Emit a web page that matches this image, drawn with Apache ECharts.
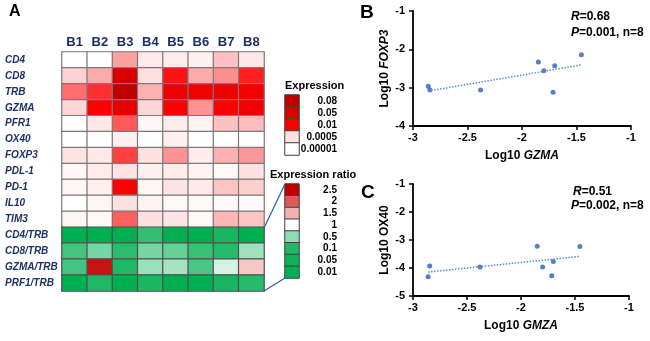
<!DOCTYPE html>
<html>
<head>
<meta charset="utf-8">
<script src="https://cdn.jsdelivr.net/npm/echarts@6/dist/echarts.min.js"></script>
<style>
  html, body { margin: 0; padding: 0; background: #fff; }
  #show_picture { width: 650px; height: 341px; }
</style>
</head>
<body>
<div id="show_picture"></div>
<script>
// heatmap (panel A)
const samples = ['B1', 'B2', 'B3', 'B4', 'B5', 'B6', 'B7', 'B8'];
const genes = ['CD4', 'CD8', 'TRB', 'GZMA', 'PFR1', 'OX40', 'FOXP3', 'PDL-1', 'PD-1', 'IL10', 'TIM3'];
const ratioNames = ['CD4/TRB', 'CD8/TRB', 'GZMA/TRB', 'PRF1/TRB'];

// log10 of expression, one row per gene
const exprLog10 = [
    [-5, -5, -2.93, -3.85, -3.95, -4.18, -3.12, -3.67],
    [-3.22, -2.99, -1.28, -3.3, -2.1, -2.99, -2.83, -2.19],
    [-2.65, -2.28, -1.1, -3.03, -1.62, -1.75, -1.65, -1.75],
    [-3.24, -2.0, -1.48, -3.24, -2.0, -2.84, -2.0, -1.75],
    [-4.9, -3.67, -2.51, -4.45, -3.85, -4.3, -3.12, -3.09],
    [-5, -5, -4.18, -5, -4.18, -5, -5, -5],
    [-3.4, -3.74, -2.37, -3.3, -2.84, -3.95, -3.03, -2.88],
    [-4.45, -3.85, -3.46, -4.18, -3.95, -4.3, -4.6, -3.3],
    [-4.45, -4.1, -2.0, -4.45, -3.46, -3.74, -3.14, -3.2],
    [-5, -4.45, -3.3, -4.3, -4.6, -4.6, -4.6, -4.7],
    [-4.45, -4.6, -2.56, -3.3, -3.46, -4.6, -3.05, -3.14]
];
const ratio = [
    [0.01, 0.01, 0.01, 0.17, 0.01, 0.01, 0.08, 0.01],
    [0.235, 0.415, 0.14, 0.415, 0.36, 0.19, 0.127, 0.58],
    [0.235, 2.4, 0.1, 0.55, 0.6, 0.255, 0.81, 1.35],
    [0.01, 0.1, 0.01, 0.09, 0.01, 0.01, 0.08, 0.127]
];

const exprLegend = [0.08, 0.05, 0.01, 0.0005, 0.00001];
const exprColors = ['#c00000', '#dc0000', '#ff0000', '#fde0e0', '#ffffff'];
const ratioLegend = [2.5, 2, 1.5, 1, 0.5, 0.1, 0.05, 0.01];
const ratioColors = ['#c00000', '#dc5a5a', '#f2b0b0', '#ffffff', '#8fdbb3', '#1fb866', '#0db359', '#00b050'];

// scatter (panels B, C)
const log10Gzma = [-2.86, -2.845, -2.38, -1.85, -1.80, -1.70, -1.715, -1.455];
const log10Foxp3 = [-2.96, -3.06, -3.06, -2.33, -2.56, -2.43, -3.12, -2.14];
const log10Ox40 = [-4.31, -3.93, -3.96, -3.22, -3.96, -3.77, -4.28, -3.23];

const navy = '#1c2f66';
const font = 'Liberation Sans, Arial, sans-serif';

function hexRgb(h) {
    return [parseInt(h.substr(1, 2), 16), parseInt(h.substr(3, 2), 16), parseInt(h.substr(5, 2), 16)];
}
// sample a piecewise linear colour ramp so visualMap can use it evenly
function ramp(stops, colors, n) {
    let pts = stops.map((s, i) => [s, hexRgb(colors[i])]).sort((a, b) => a[0] - b[0]);
    let lo = pts[0][0], hi = pts[pts.length - 1][0];
    let out = [];
    for (let k = 0; k < n; k++) {
        let v = lo + (hi - lo) * k / (n - 1);
        let j = 0;
        while (j < pts.length - 2 && v > pts[j + 1][0]) j++;
        let t = (v - pts[j][0]) / (pts[j + 1][0] - pts[j][0]);
        t = Math.max(0, Math.min(1, t));
        let c = pts[j][1].map((x, m) => Math.round(x + (pts[j + 1][1][m] - x) * t));
        out.push('rgb(' + c.join(',') + ')');
    }
    return out;
}

function fit(xs, ys) {
    let mx = xs.reduce((a, b) => a + b) / xs.length;
    let my = ys.reduce((a, b) => a + b) / ys.length;
    let sxy = 0, sxx = 0;
    xs.forEach((x, i) => { sxy += (x - mx) * (ys[i] - my); sxx += (x - mx) * (x - mx); });
    let b = sxy / sxx;
    let x0 = Math.min(...xs), x1 = Math.max(...xs);
    return [[x0, my + b * (x0 - mx)], [x1, my + b * (x1 - mx)]];
}

let exprData = [];
exprLog10.forEach((row, r) => row.forEach((v, c) => exprData.push([c, r, v])));
let ratioData = [];
ratio.forEach((row, r) => row.forEach((v, c) => ratioData.push([c, genes.length + r, v])));

let exprStops = exprLegend.map(v => Math.log10(v));

let myChart = echarts.init(document.getElementById('show_picture'));

const tickLabel = { fontFamily: font, fontWeight: 'bold', fontSize: 11, color: '#000' };
const axisLine = { onZero: false, lineStyle: { color: '#000', width: 1.8 } };
const axisTick = { length: 4, lineStyle: { color: '#000', width: 1.5 } };
const nameRich = {
    n: { fontFamily: font, fontWeight: 'bold', fontSize: 12, color: '#000' },
    i: { fontFamily: font, fontWeight: 'bold', fontStyle: 'italic', fontSize: 12, color: '#000' }
};

function scatterAxes(gi, yMin, yMax, xName, yName) {
    return {
        x: {
            type: 'value', gridIndex: gi, min: -3, max: -1, interval: 0.5,
            splitLine: { show: false }, axisLine: axisLine, axisTick: axisTick,
            axisLabel: Object.assign({ margin: 6 }, tickLabel),
            name: xName, nameLocation: 'middle', nameGap: 24,
            nameTextStyle: { rich: nameRich }
        },
        y: {
            type: 'value', gridIndex: gi, min: yMin, max: yMax, interval: 1,
            splitLine: { show: false }, axisLine: axisLine, axisTick: axisTick,
            axisLabel: Object.assign({ margin: 8 }, tickLabel),
            name: yName, nameLocation: 'middle', nameGap: 22,
            nameTextStyle: { rich: nameRich }
        }
    };
}
let axB = scatterAxes(3, -4, -1, '{n|Log10 }{i|GZMA}', '{n|Log10 }{i|FOXP3}');
let axC = scatterAxes(4, -5, -1, '{n|Log10 }{i|GMZA}', '{n|Log10 OX40}');

const legendAxisLabel = { interval: 0, margin: 38, align: 'right', fontFamily: font, fontWeight: 'bold', fontSize: 10, color: '#000' };

let option = {
    animation: false,
    grid: [
        { left: 62, top: 52, width: 202, height: 239 },
        { left: 285, top: 95, width: 14, height: 60 },
        { left: 285, top: 184, width: 14, height: 94 },
        { left: 413, top: 11, width: 218, height: 115 },
        { left: 413, top: 184, width: 216, height: 112 }
    ],
    xAxis: [
        {
            type: 'category', gridIndex: 0, data: samples, position: 'top',
            axisLine: { show: false }, axisTick: { show: false }, splitLine: { show: false },
            axisLabel: { interval: 0, margin: 3, fontFamily: font, fontWeight: 'bold', fontSize: 13, color: navy }
        },
        { type: 'category', gridIndex: 1, data: [''], show: false },
        { type: 'category', gridIndex: 2, data: [''], show: false },
        axB.x, axC.x
    ],
    yAxis: [
        {
            type: 'category', gridIndex: 0, data: genes.concat(ratioNames), inverse: true,
            axisLine: { show: false }, axisTick: { show: false }, splitLine: { show: false },
            axisLabel: { interval: 0, margin: 57, align: 'left', fontFamily: font, fontWeight: 'bold', fontStyle: 'italic', fontSize: 10, color: navy }
        },
        {
            type: 'category', gridIndex: 1, data: exprLegend.map(String), inverse: true, position: 'right',
            axisLine: { show: false }, axisTick: { show: false }, axisLabel: legendAxisLabel
        },
        {
            type: 'category', gridIndex: 2, data: ratioLegend.map(String), inverse: true, position: 'right',
            axisLine: { show: false }, axisTick: { show: false }, axisLabel: legendAxisLabel
        },
        axB.y, axC.y
    ],
    visualMap: [
        {
            show: false, type: 'continuous', seriesIndex: [0, 2], dimension: 2,
            min: Math.min(...exprStops), max: Math.max(...exprStops),
            inRange: { color: ramp(exprStops, exprColors, 300) }
        },
        {
            show: false, type: 'continuous', seriesIndex: [1, 3], dimension: 2,
            min: Math.min(...ratioLegend), max: Math.max(...ratioLegend),
            inRange: { color: ramp(ratioLegend, ratioColors, 300) }
        }
    ],
    series: [
        {
            type: 'heatmap', xAxisIndex: 0, yAxisIndex: 0, data: exprData,
            itemStyle: { borderColor: '#7a7a7a', borderWidth: 1.2 }, emphasis: { disabled: true }
        },
        {
            type: 'heatmap', xAxisIndex: 0, yAxisIndex: 0, data: ratioData,
            itemStyle: { borderColor: '#505050', borderWidth: 1.2 }, emphasis: { disabled: true }
        },
        {
            type: 'heatmap', xAxisIndex: 1, yAxisIndex: 1,
            data: exprStops.map((v, i) => [0, i, v]),
            itemStyle: { borderColor: '#404040', borderWidth: 1 }, emphasis: { disabled: true }
        },
        {
            type: 'heatmap', xAxisIndex: 2, yAxisIndex: 2,
            data: ratioLegend.map((v, i) => [0, i, v]),
            itemStyle: { borderColor: '#404040', borderWidth: 1 }, emphasis: { disabled: true }
        },
        {
            type: 'scatter', xAxisIndex: 3, yAxisIndex: 3, symbolSize: 5,
            data: log10Gzma.map((x, i) => [x, log10Foxp3[i]]),
            itemStyle: { color: '#2a5cc0' }
        },
        {
            type: 'line', xAxisIndex: 3, yAxisIndex: 3, symbol: 'none',
            data: fit(log10Gzma, log10Foxp3),
            lineStyle: { color: '#5d8ad6', width: 1.5, type: 'dotted' }
        },
        {
            type: 'scatter', xAxisIndex: 4, yAxisIndex: 4, symbolSize: 5,
            data: log10Gzma.map((x, i) => [x, log10Ox40[i]]),
            itemStyle: { color: '#2a5cc0' }
        },
        {
            type: 'line', xAxisIndex: 4, yAxisIndex: 4, symbol: 'none',
            data: fit(log10Gzma, log10Ox40),
            lineStyle: { color: '#5d8ad6', width: 1.5, type: 'dotted' }
        }
    ],
    graphic: [
        { type: 'text', left: 9, top: 4, style: { text: 'A', fontFamily: font, fontWeight: 'bold', fontSize: 16, fill: '#000' } },
        { type: 'text', left: 360, top: 3, style: { text: 'B', fontFamily: font, fontWeight: 'bold', fontSize: 19, fill: '#000' } },
        { type: 'text', left: 361, top: 183, style: { text: 'C', fontFamily: font, fontWeight: 'bold', fontSize: 19, fill: '#000' } },
        { type: 'text', left: 285, top: 80, style: { text: 'Expression', fontFamily: font, fontWeight: 'bold', fontSize: 11, fill: '#000' } },
        { type: 'text', left: 270, top: 169, style: { text: 'Expression ratio', fontFamily: font, fontWeight: 'bold', fontSize: 11, fill: '#000' } },
        {
            type: 'text', left: 571, top: 9,
            style: {
                text: '{i|R}{n|=0.68}\n{i|P}{n|=0.001, n=8}', lineHeight: 16,
                rich: {
                    n: { fontFamily: font, fontWeight: 'bold', fontSize: 12, fill: '#000', lineHeight: 16 },
                    i: { fontFamily: font, fontWeight: 'bold', fontStyle: 'italic', fontSize: 12, fill: '#000', lineHeight: 16 }
                }
            }
        },
        {
            type: 'text', left: 573, top: 186,
            style: {
                text: '{i|R}{n|=0.51}', rich: {
                    n: { fontFamily: font, fontWeight: 'bold', fontSize: 12, fill: '#000' },
                    i: { fontFamily: font, fontWeight: 'bold', fontStyle: 'italic', fontSize: 12, fill: '#000' }
                }
            }
        },
        {
            type: 'text', left: 571, top: 200,
            style: {
                text: '{i|P}{n|=0.002, n=8}', rich: {
                    n: { fontFamily: font, fontWeight: 'bold', fontSize: 12, fill: '#000' },
                    i: { fontFamily: font, fontWeight: 'bold', fontStyle: 'italic', fontSize: 12, fill: '#000' }
                }
            }
        },
        { type: 'line', shape: { x1: 264, y1: 228, x2: 285, y2: 184 }, style: { stroke: '#2e56b8', lineWidth: 1.2 } },
        { type: 'line', shape: { x1: 264, y1: 291, x2: 285, y2: 278 }, style: { stroke: '#2e56b8', lineWidth: 1.2 } }
    ]
};

option && myChart.setOption(option);
</script>
</body>
</html>
